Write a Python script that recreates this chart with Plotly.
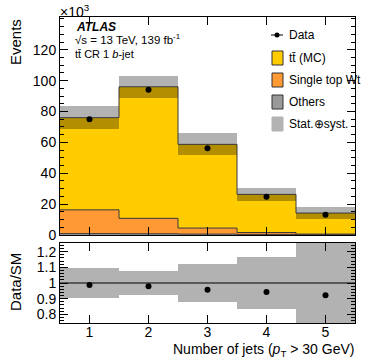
import numpy as np
import plotly.graph_objects as go

# values in units of 10^3 events
n_jets = [1, 2, 3, 4, 5]
data = [75.0, 94.0, 56.2, 24.8, 13.1]
ttbar = [59.7, 85.2, 54.2, 24.7, 13.6]
single_top = [15.4, 10.0, 3.9, 1.2, 0.4]
others = [0.9, 0.8, 0.6, 0.4, 0.2]
unc = [7.5, 7.3, 7.2, 4.3, 4.0]

FONT = "Liberation Sans, Arial, sans-serif"
YELLOW = "#ffcc00"
ORANGE = "#ff9933"
GREY = "#999999"
BAND = "rgba(0,0,0,0.3)"

x = np.array(n_jets, dtype=float)
oth = np.array(others)
st = np.array(single_top)
tt = np.array(ttbar)
total = oth + st + tt
err = np.array(unc)
dat = np.array(data)
ratio = dat / total
rel = err / total

edges = np.append(x - 0.5, x[-1] + 0.5)

fig = go.Figure()

# stacked histogram
fig.add_trace(go.Bar(x=x, y=oth, base=0, width=1, marker=dict(color=GREY, line=dict(width=0)),
                     xaxis="x", yaxis="y"))
fig.add_trace(go.Bar(x=x, y=st, base=oth, width=1, marker=dict(color=ORANGE, line=dict(width=0)),
                     xaxis="x", yaxis="y"))
fig.add_trace(go.Bar(x=x, y=tt, base=oth + st, width=1, marker=dict(color=YELLOW, line=dict(width=0)),
                     xaxis="x", yaxis="y"))

# step outlines
for lvl in [oth, oth + st, total]:
    fig.add_trace(go.Scatter(x=edges, y=np.append(lvl, lvl[-1]), mode="lines", line_shape="hv",
                             line=dict(color="#3a3a3a", width=1), xaxis="x", yaxis="y"))

# uncertainty band
fig.add_trace(go.Bar(x=x, y=2 * err, base=total - err, width=1,
                     marker=dict(color=BAND, line=dict(width=0)), xaxis="x", yaxis="y"))

# data
fig.add_trace(go.Scatter(x=x, y=dat, mode="markers", marker=dict(color="black", size=6),
                         xaxis="x", yaxis="y"))

# ratio panel
fig.add_trace(go.Bar(x=x, y=2 * rel, base=1 - rel, width=1,
                     marker=dict(color=BAND, line=dict(width=0)), xaxis="x2", yaxis="y2"))
fig.add_trace(go.Scatter(x=x, y=ratio, mode="markers", marker=dict(color="black", size=6),
                         xaxis="x2", yaxis="y2"))

axis_common = dict(showgrid=False, zeroline=False, showline=True, linecolor="black", linewidth=1,
                   mirror="allticks", ticks="inside", ticklen=8, tickcolor="black",
                   tickfont=dict(family=FONT, size=14, color="black"))

fig.update_layout(
    width=374, height=363,
    margin=dict(l=60, r=19, t=17, b=40),
    paper_bgcolor="white", plot_bgcolor="white",
    barmode="overlay", bargap=0, showlegend=False,
    font=dict(family=FONT, color="black"),
    xaxis=dict(domain=[0, 1], range=[0.5, 5.5], tickvals=n_jets, showticklabels=False,
               anchor="y", **axis_common),
    yaxis=dict(domain=[0.2876, 1], range=[0, 141.2], tickvals=[0, 20, 40, 60, 80, 100, 120],
               minor=dict(dtick=5, ticks="inside", ticklen=4, tickcolor="black"),
               anchor="x", **axis_common),
    xaxis2=dict(domain=[0, 1], range=[0.5, 5.5], tickvals=n_jets, anchor="y2",
                ticklabelstandoff=-4, **axis_common),
    yaxis2=dict(domain=[0, 0.2614], range=[0.745, 1.255], tickvals=[0.8, 0.9, 1, 1.1, 1.2],
                ticktext=["0.8", "0.9", "1", "1.1", "1.2"],
                minor=dict(dtick=0.02, ticks="inside", ticklen=4, tickcolor="black"),
                anchor="x2", **axis_common),
)

fig.add_shape(type="line", xref="x2 domain", yref="y2", x0=0, x1=1, y0=1, y1=1,
              line=dict(color="black", width=1.2))

# pixel -> paper helpers
plot_w = 374 - 60 - 19
plot_h = 363 - 17 - 40
def px(xp):
    return (xp - 60) / plot_w
def py(yp):
    return (363 - 40 - yp) / plot_h

# texts
ann = []
ann.append(dict(text="Events", x=px(15), y=py(17), xref="paper", yref="paper", textangle=-90,
                xanchor="center", yanchor="top", showarrow=False, font=dict(size=15)))
ann.append(dict(text="Data/SM", x=px(15), y=py(282), xref="paper", yref="paper", textangle=-90,
                xanchor="center", yanchor="middle", showarrow=False, font=dict(size=15)))
ann.append(dict(text="×10<sup>3</sup>", x=px(58), y=py(11), xref="paper", yref="paper",
                xanchor="left", yanchor="middle", showarrow=False, font=dict(size=14)))
ann.append(dict(text="Number of jets (<i>p</i><sub>T</sub> > 30 GeV)", x=px(356), y=py(350),
                xref="paper", yref="paper", xanchor="right", yanchor="middle", showarrow=False,
                font=dict(size=14)))
ann.append(dict(text="<b><i>ATLAS</i></b>", x=px(74), y=py(27), xref="paper", yref="paper",
                xanchor="left", yanchor="middle", showarrow=False, font=dict(size=12)))
ann.append(dict(text="√s = 13 TeV, 139 fb<sup>-1</sup>", x=px(73), y=py(39.5), xref="paper",
                yref="paper", xanchor="left", yanchor="middle", showarrow=False, font=dict(size=11.5)))
ann.append(dict(text="tt̄ CR 1 <i>b</i>-jet", x=px(73), y=py(53.5), xref="paper", yref="paper",
                xanchor="left", yanchor="middle", showarrow=False, font=dict(size=11)))

# legend
leg = [("tt̄ (MC)", YELLOW, "#333333"), ("Single top Wt", ORANGE, "#333333"),
       ("Others", GREY, "#333333"), ("Stat.⊕syst.", "#b3b3b3", "#b3b3b3")]
fig.add_shape(type="line", xref="paper", yref="paper", x0=px(271), x1=px(283), y0=py(35), y1=py(35),
              line=dict(color="black", width=1))
fig.add_shape(type="circle", xref="paper", yref="paper", x0=px(274.5), x1=px(279.5),
              y0=py(37.5), y1=py(32.5), fillcolor="black", line=dict(color="black", width=0))
ann.append(dict(text="Data", x=px(287), y=py(35), xref="paper", yref="paper", xanchor="left",
                yanchor="middle", showarrow=False, font=dict(size=12)))
for i, (lab, col, lc) in enumerate(leg):
    yc = 58 + 22 * i
    fig.add_shape(type="rect", xref="paper", yref="paper", x0=px(272), x1=px(283),
                  y0=py(yc - 7), y1=py(yc + 7), fillcolor=col, line=dict(color=lc, width=1))
    ann.append(dict(text=lab, x=px(287), y=py(yc), xref="paper", yref="paper", xanchor="left",
                    yanchor="middle", showarrow=False, font=dict(size=12)))

fig.update_layout(annotations=ann)
fig.write_html("out.html", config={"displayModeBar": False},
               post_script="document.body.style.margin='0';")
